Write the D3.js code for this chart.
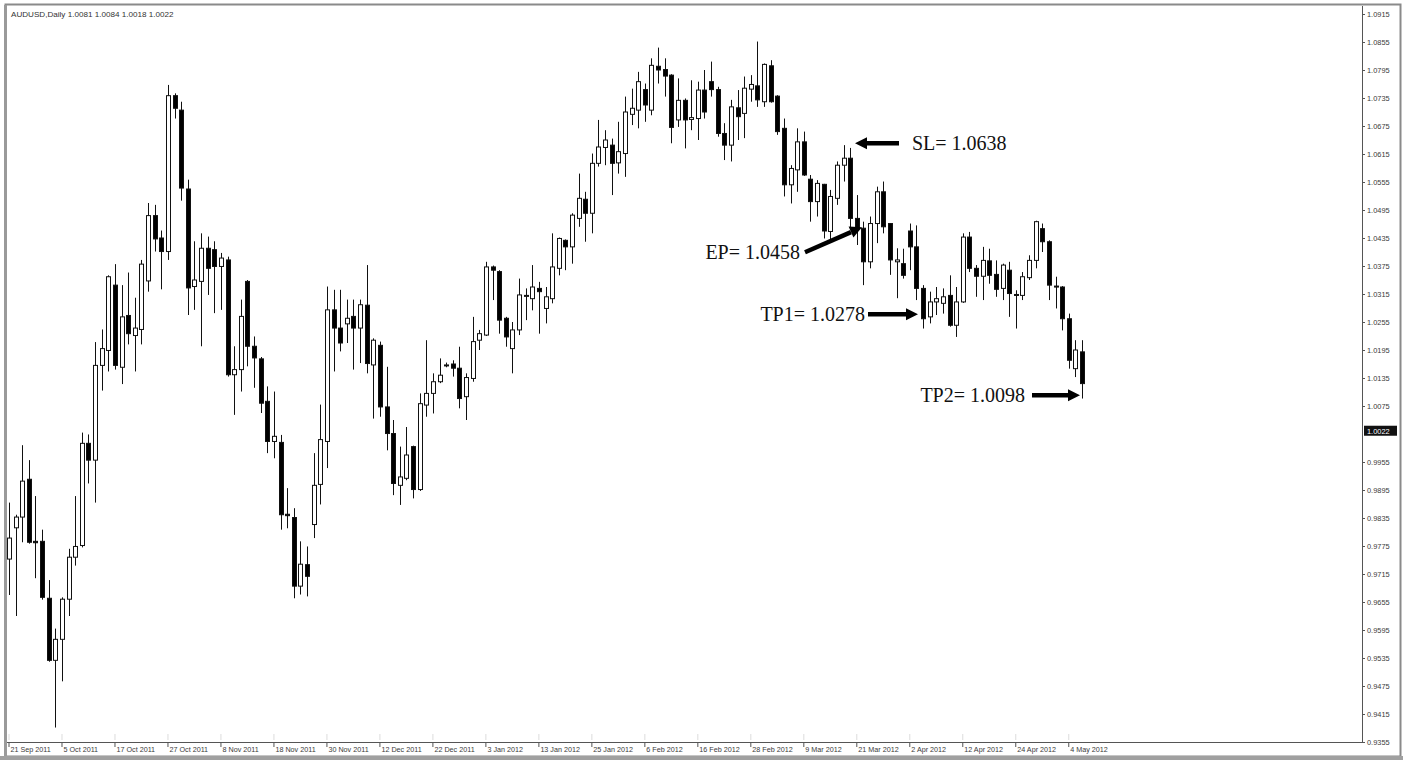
<!DOCTYPE html>
<html>
<head>
<meta charset="utf-8">
<script src="https://cdn.jsdelivr.net/npm/d3@7/dist/d3.min.js"></script>
<style>
  html, body { margin: 0; padding: 0; background: #fff; }
  svg { display: block; }
</style>
</head>
<body>
<svg id="chart" width="1403" height="760"></svg>
<script>
// AUDUSD daily candles, one entry per trading session
const opens = [
  0.9747,0.9814,0.9837,0.9918,0.9785,0.9785,0.9663,0.9530,0.9575,0.9661,
  0.9751,0.9776,0.9995,0.9959,1.0162,1.0194,1.0334,1.0158,1.0269,1.0226,
  1.0239,1.0343,1.0483,1.0435,1.0406,1.0740,1.0709,1.0540,1.0331,1.0342,
  1.0413,1.0410,1.0374,1.0388,1.0142,1.0153,1.0342,1.0203,1.0176,1.0085,
  0.9999,0.9997,0.9843,0.9836,0.9689,0.9735,0.9821,0.9907,0.9999,1.0281,
  1.0242,1.0251,1.0267,1.0242,1.0291,1.0163,1.0205,1.0073,1.0016,0.9905,
  0.9920,0.9988,0.9896,1.0077,1.0102,1.0127,1.0162,1.0165,1.0156,1.0095,
  1.0134,1.0216,1.0227,1.0373,1.0363,1.0263,1.0198,1.0238,1.0311,1.0305,
  1.0327,1.0284,1.0305,1.0370,1.0430,1.0416,1.0477,1.0518,1.0488,1.0595,
  1.0629,1.0634,1.0596,1.0616,1.0700,1.0709,1.0753,1.0709,1.0803,1.0796,
  1.0784,1.0688,1.0730,1.0689,1.0691,1.0752,1.0770,1.0753,1.0659,1.0634,
  1.0714,1.0702,1.0754,1.0761,1.0727,1.0804,1.0739,1.0670,1.0549,1.0581,
  1.0641,1.0561,1.0513,1.0550,1.0449,1.0520,1.0591,1.0606,1.0477,1.0456,
  1.0384,1.0466,1.0534,1.0466,1.0384,1.0380,1.0450,1.0416,1.0327,1.0266,
  1.0298,1.0295,1.0312,1.0248,1.0298,1.0437,1.0370,1.0353,1.0386,1.0357,
  1.0327,1.0366,1.0314,1.0312,1.0350,1.0387,1.0455,1.0427,1.0332,1.0330,
  1.0262,1.0155,1.0191
];
const highs = [
  0.9868,0.9842,0.9991,0.9959,0.9882,0.9810,0.9702,0.9598,0.9665,0.9769,
  0.9882,1.0018,1.0014,1.0212,1.0239,1.0355,1.0379,1.0334,1.0361,1.0307,
  1.0388,1.0510,1.0506,1.0451,1.0763,1.0745,1.0727,1.0560,1.0428,1.0445,
  1.0438,1.0428,1.0403,1.0395,1.0203,1.0303,1.0345,1.0224,1.0180,1.0117,
  1.0106,1.0013,0.9899,0.9856,0.9785,0.9774,0.9974,1.0078,1.0331,1.0324,
  1.0324,1.0303,1.0303,1.0303,1.0377,1.0220,1.0213,1.0159,1.0045,0.9988,
  1.0030,0.9990,1.0102,1.0216,1.0145,1.0177,1.0168,1.0173,1.0202,1.0145,
  1.0266,1.0238,1.0384,1.0376,1.0366,1.0266,1.0255,1.0348,1.0327,1.0377,
  1.0341,1.0330,1.0445,1.0436,1.0432,1.0488,1.0573,1.0534,1.0616,1.0688,
  1.0666,1.0648,1.0684,1.0738,1.0755,1.0791,1.0766,1.0820,1.0843,1.0820,
  1.0786,1.0777,1.0734,1.0773,1.0770,1.0795,1.0813,1.0759,1.0681,1.0731,
  1.0752,1.0781,1.0784,1.0856,1.0809,1.0816,1.0741,1.0691,1.0591,1.0670,
  1.0663,1.0570,1.0559,1.0551,1.0538,1.0599,1.0634,1.0628,1.0527,1.0470,
  1.0481,1.0545,1.0556,1.0467,1.0413,1.0412,1.0466,1.0462,1.0334,1.0320,
  1.0330,1.0327,1.0355,1.0330,1.0445,1.0448,1.0377,1.0416,1.0412,1.0387,
  1.0380,1.0384,1.0323,1.0362,1.0398,1.0472,1.0466,1.0430,1.0352,1.0332,
  1.0273,1.0216,1.0216
];
const lows = [
  0.9670,0.9625,0.9783,0.9780,0.9706,0.9660,0.9527,0.9386,0.9485,0.9625,
  0.9733,0.9772,0.9909,0.9868,1.0108,1.0149,1.0153,1.0122,1.0207,1.0149,
  1.0207,1.0320,1.0406,1.0325,1.0388,1.0691,1.0515,1.0270,1.0281,1.0203,
  1.0313,1.0274,1.0281,1.0138,1.0056,1.0106,1.0160,1.0114,1.0060,0.9974,
  0.9963,0.9810,0.9813,0.9663,0.9671,0.9667,0.9792,0.9864,0.9942,1.0149,
  1.0192,1.0210,1.0153,1.0167,1.0145,1.0048,1.0052,0.9980,0.9884,0.9863,
  0.9916,0.9877,0.9893,1.0052,1.0059,1.0124,1.0158,1.0138,1.0070,1.0045,
  1.0127,1.0195,1.0225,1.0302,1.0230,1.0202,1.0145,1.0227,1.0259,1.0280,
  1.0230,1.0252,1.0295,1.0355,1.0366,1.0380,1.0459,1.0427,1.0445,1.0588,
  1.0591,1.0527,1.0573,1.0566,1.0677,1.0670,1.0684,1.0698,1.0766,1.0738,
  1.0638,1.0673,1.0627,1.0666,1.0645,1.0691,1.0738,1.0652,1.0602,1.0599,
  1.0645,1.0649,1.0727,1.0716,1.0716,1.0725,1.0656,1.0524,1.0509,1.0534,
  1.0568,1.0470,1.0481,1.0434,1.0431,1.0506,1.0556,1.0456,1.0420,1.0334,
  1.0370,1.0424,1.0445,1.0356,1.0306,1.0348,1.0366,1.0302,1.0241,1.0252,
  1.0270,1.0273,1.0245,1.0223,1.0296,1.0362,1.0309,1.0302,1.0337,1.0309,
  1.0302,1.0266,1.0241,1.0302,1.0345,1.0370,1.0405,1.0302,1.0284,1.0237,
  1.0155,1.0137,1.0091
];
const closes = [
  0.9792,0.9837,0.9914,0.9783,0.9782,0.9665,0.9530,0.9575,0.9661,0.9751,
  0.9774,0.9995,0.9959,1.0162,1.0198,1.0352,1.0162,1.0266,1.0230,1.0242,
  1.0379,1.0483,1.0433,1.0406,1.0740,1.0713,1.0542,1.0328,1.0345,1.0413,
  1.0370,1.0374,1.0392,1.0142,1.0153,1.0267,1.0203,1.0178,1.0081,0.9999,
  1.0010,0.9842,0.9840,0.9689,0.9736,0.9710,0.9905,1.0003,1.0281,1.0242,
  1.0210,1.0263,1.0242,1.0292,1.0166,1.0216,1.0073,1.0016,0.9909,0.9923,
  0.9970,0.9896,1.0080,1.0102,1.0127,1.0141,1.0163,1.0156,1.0091,1.0136,
  1.0213,1.0230,1.0373,1.0366,1.0259,1.0223,1.0238,1.0313,1.0312,1.0330,
  1.0320,1.0309,1.0373,1.0434,1.0416,1.0484,1.0520,1.0488,1.0595,1.0630,
  1.0645,1.0595,1.0620,1.0705,1.0713,1.0770,1.0720,1.0805,1.0795,1.0782,
  1.0672,1.0730,1.0688,1.0693,1.0752,1.0705,1.0753,1.0659,1.0634,1.0716,
  1.0695,1.0756,1.0764,1.0731,1.0807,1.0727,1.0663,1.0549,1.0584,1.0641,
  1.0570,1.0513,1.0552,1.0450,1.0524,1.0591,1.0606,1.0477,1.0456,1.0384,
  1.0466,1.0534,1.0459,1.0388,1.0388,1.0355,1.0416,1.0327,1.0262,1.0298,
  1.0305,1.0309,1.0248,1.0298,1.0437,1.0370,1.0353,1.0387,1.0355,1.0325,
  1.0377,1.0316,1.0312,1.0352,1.0387,1.0470,1.0427,1.0334,1.0330,1.0262,
  1.0173,1.0195,1.0123
];

// Date captions along the time axis and the session they sit on
const dateLabels = [
  "21 Sep 2011","5 Oct 2011","17 Oct 2011","27 Oct 2011","8 Nov 2011",
  "18 Nov 2011","30 Nov 2011","12 Dec 2011","22 Dec 2011","3 Jan 2012",
  "13 Jan 2012","25 Jan 2012","6 Feb 2012","16 Feb 2012","28 Feb 2012",
  "9 Mar 2012","21 Mar 2012","2 Apr 2012","12 Apr 2012","24 Apr 2012","4 May 2012"
];
const dateLabelBars = [0,8,16,24,32,40,48,56,64,72,80,88,96,104,112,120,128,136,144,152,160];

// Price scale captions
const priceTicks = [
  1.0915,1.0855,1.0795,1.0735,1.0675,1.0615,1.0555,1.0495,1.0435,1.0375,
  1.0315,1.0255,1.0195,1.0135,1.0075,0.9955,0.9895,0.9835,0.9775,0.9715,
  0.9655,0.9595,0.9535,0.9475,0.9415,0.9355
];
const lastPrice = 1.0022;
const titleText = "AUDUSD,Daily  1.0081 1.0084 1.0018 1.0022";

// Trade levels marked on the chart
const levelNames  = ["SL", "EP", "TP1", "TP2"];
const levelValues = [1.0638, 1.0458, 1.0278, 1.0098];

const candles = opens.map((o, i) => ({ i, o, h: highs[i], l: lows[i], c: closes[i] }));

const svg = d3.select("#chart");
const W = 1403, H = 760;
const plotLeft = 7, plotRight = 1362, plotTop = 6, plotBottom = 742;

const x = d3.scaleLinear().domain([0, candles.length - 1]).range([9, 1082]);
const y = d3.scaleLinear().domain([0.9355, 1.0915]).range([742, 14]);

// window frame
svg.append("rect").attr("x", 0).attr("y", 0).attr("width", W).attr("height", H).attr("fill", "#fff");
svg.append("rect").attr("x", 5.5).attr("y", 4.5).attr("width", 1395).attr("height", 752)
  .attr("fill", "none").attr("stroke", "#8a8a8a").attr("stroke-width", 2);
svg.append("rect").attr("x", 4).attr("y", 5).attr("width", 3).attr("height", 752).attr("fill", "#9a9a9a");
svg.append("rect").attr("x", 0).attr("y", 756).attr("width", W).attr("height", 4).attr("fill", "#a0a0a0");

// title
svg.append("text").attr("x", 11).attr("y", 17)
  .attr("font-family", "Liberation Sans, Arial, sans-serif").attr("font-size", 8.1)
  .attr("fill", "#333").text(titleText);

// right price axis
const yAxis = d3.axisRight(y).tickValues(priceTicks).tickFormat(d3.format(".4f"))
  .tickSize(3).tickPadding(2);
const gy = svg.append("g").attr("transform", `translate(${plotRight},0)`).call(yAxis);
gy.select(".domain").attr("stroke", "#555").attr("d", `M0.5,${plotTop}V${plotBottom + 0.5}`);
gy.selectAll(".tick line").attr("stroke", "#555");
gy.selectAll(".tick text").attr("font-family", "Liberation Sans, Arial, sans-serif")
  .attr("font-size", 7.4).attr("fill", "#3a3a3a");

// last price marker
const lp = svg.append("g").attr("transform", `translate(${plotRight},${y(lastPrice)})`);
lp.append("rect").attr("x", 2).attr("y", -5).attr("width", 33).attr("height", 10).attr("fill", "#111");
lp.append("text").attr("x", 5).attr("y", 3).attr("font-family", "Liberation Sans, Arial, sans-serif")
  .attr("font-size", 7.4).attr("fill", "#fff").text(lastPrice.toFixed(4));

// bottom time axis
const xAxis = d3.axisBottom(x).tickValues(dateLabelBars)
  .tickFormat((d, k) => dateLabels[k]).tickSize(5).tickPadding(2);
const gx = svg.append("g").attr("transform", `translate(0,${plotBottom})`).call(xAxis);
gx.select(".domain").attr("stroke", "#555").attr("d", `M${plotLeft},0.5H${plotRight + 0.5}`);
gx.selectAll(".tick line").attr("stroke", "#555").attr("x1", -0.5).attr("x2", -0.5);
gx.selectAll(".tick text").attr("font-family", "Liberation Sans, Arial, sans-serif")
  .attr("font-size", 7.2).attr("fill", "#3a3a3a").attr("text-anchor", "start").attr("dx", 1).attr("dy", "0.35em");
// faint period separators above the axis
gx.selectAll(".tick").append("line").attr("x1", -0.5).attr("x2", -0.5).attr("y1", -8).attr("y2", -2)
  .attr("stroke", "#dcdcdc");

// candles
const gc = svg.append("g");
const cx = d => Math.round(x(d.i)) + 0.5;
gc.selectAll("line.wick").data(candles).join("line").attr("class", "wick")
  .attr("x1", cx).attr("x2", cx)
  .attr("y1", d => y(d.h)).attr("y2", d => y(d.l))
  .attr("stroke", "#111").attr("stroke-width", 1);
gc.selectAll("rect.body").data(candles).join("rect").attr("class", "body")
  .attr("x", d => cx(d) - 2)
  .attr("y", d => Math.min(y(d.o), y(d.c)))
  .attr("width", 4)
  .attr("height", d => Math.max(1, Math.abs(y(d.o) - y(d.c))))
  .attr("fill", d => d.c >= d.o ? "#fff" : "#000")
  .attr("stroke", "#111").attr("stroke-width", 1);

// trade level annotations
const serif = "Liberation Serif, Times New Roman, serif";
function arrow(x1, y1, x2, y2) {
  const ang = Math.atan2(y2 - y1, x2 - x1);
  const headLen = 12, headW = 6;
  const bx = x2 - headLen * Math.cos(ang), by = y2 - headLen * Math.sin(ang);
  svg.append("line").attr("x1", x1).attr("y1", y1).attr("x2", bx).attr("y2", by)
    .attr("stroke", "#000").attr("stroke-width", 4.5);
  const px = -Math.sin(ang) * headW, py = Math.cos(ang) * headW;
  svg.append("path")
    .attr("d", `M${x2},${y2}L${bx + px},${by + py}L${bx - px},${by - py}Z`)
    .attr("fill", "#000");
}
function caption(tx, ty, str, anchor) {
  svg.append("text").attr("x", tx).attr("y", ty + 7).attr("text-anchor", anchor)
    .attr("font-family", serif).attr("font-size", 20).attr("fill", "#111").text(str);
}
const lvl = name => levelValues[levelNames.indexOf(name)];
const lvlText = name => `${name}= ${lvl(name).toFixed(4)}`;

// SL: arrow pointing left at the stop level
arrow(899, y(lvl("SL")), 855, y(lvl("SL")));
caption(912, y(lvl("SL")), lvlText("SL"), "start");
// EP: diagonal arrow up to the entry
arrow(805, y(lvl("EP")) + 25, 862, y(lvl("EP")));
caption(800, y(lvl("EP")) + 25, lvlText("EP"), "end");
// TP1 and TP2: arrows pointing right at the targets
arrow(868, y(lvl("TP1")) + 3, 918, y(lvl("TP1")) + 3);
caption(865, y(lvl("TP1")) + 3, lvlText("TP1"), "end");
arrow(1032, y(lvl("TP2")), 1080, y(lvl("TP2")));
caption(1025, y(lvl("TP2")), lvlText("TP2"), "end");
</script>
</body>
</html>
